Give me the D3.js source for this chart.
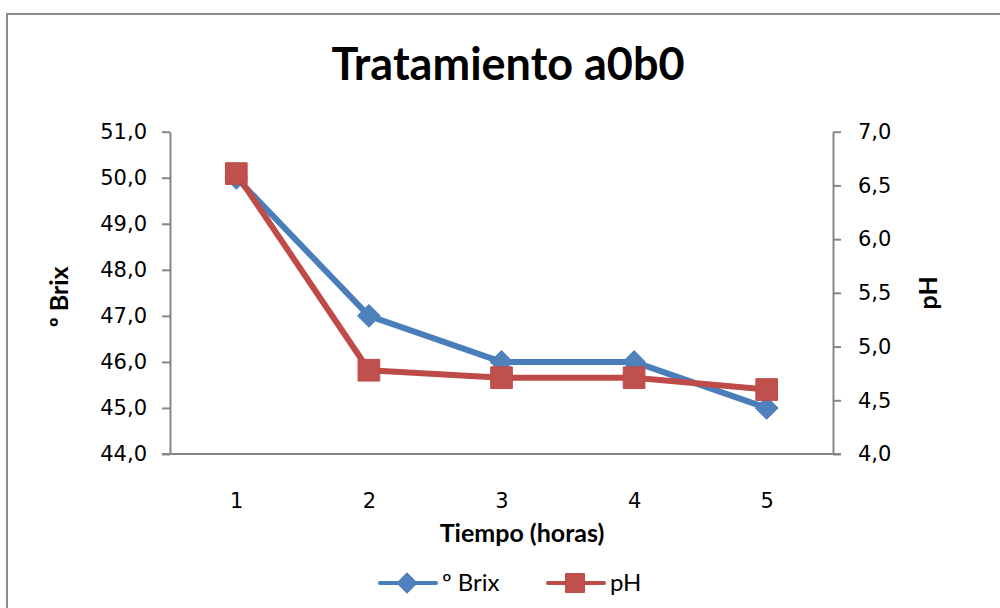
<!DOCTYPE html>
<html>
<head>
<meta charset="utf-8">
<script src="https://cdn.jsdelivr.net/npm/d3@7"></script>
<style>
  html, body { margin: 0; padding: 0; background: #fff; }
  svg { display: block; font-family: Lato, "Open Sans", sans-serif; }
</style>
</head>
<body>
<svg id="chart" width="1000" height="608"></svg>
<script>
// Time points (hours) and measured values
const hours = ["1", "2", "3", "4", "5"];
const brix = [50.0, 47.0, 46.0, 46.0, 45.0];
const ph = [6.61, 4.78, 4.71, 4.71, 4.60];
const brixTicks = [44, 45, 46, 47, 48, 49, 50, 51];
const phTicks = [4.0, 4.5, 5.0, 5.5, 6.0, 6.5, 7.0];

const blueLine = "#4A7EBB", blueFill = "#4F81BD";
const redLine = "#BE4B48", redFill = "#C0504D";
const axisColor = "#868686";
const tickFont = "'DejaVu Sans', Verdana, sans-serif";

const svg = d3.select("#chart");

// Chart frame
svg.append("rect")
  .attr("x", 7).attr("y", 14)
  .attr("width", 1000).attr("height", 610)
  .attr("fill", "#fff")
  .attr("stroke", "#8c8c8c").attr("stroke-width", 2);

const plot = { left: 170, right: 833, top: 131.7, bottom: 454 };

const x = d3.scalePoint().domain(hours).range([plot.left, plot.right]).padding(0.5);
const yL = d3.scaleLinear().domain([44, 51]).range([plot.bottom, plot.top]);
const yR = d3.scaleLinear().domain([4, 7]).range([plot.bottom, plot.top]);

const fmt = d => d.toFixed(1).replace(".", ",");

// Left axis (ºBrix)
const gL = svg.append("g")
  .attr("transform", `translate(${plot.left},0)`)
  .call(d3.axisLeft(yL).tickValues(brixTicks).tickFormat(fmt).tickSizeInner(8).tickSizeOuter(0).tickPadding(15));

// Right axis (pH)
const gR = svg.append("g")
  .attr("transform", `translate(${plot.right},0)`)
  .call(d3.axisRight(yR).tickValues(phTicks).tickFormat(fmt).tickSizeInner(8).tickSizeOuter(0).tickPadding(17));

// Bottom axis (categories)
const gB = svg.append("g")
  .attr("transform", `translate(0,${plot.bottom})`)
  .call(d3.axisBottom(x).tickSize(0).tickPadding(38));
gB.select(".domain").attr("d", `M${plot.left - 8},0H${plot.right + 8}`);

[gL, gR, gB].forEach(g => {
  g.selectAll(".domain").attr("stroke", axisColor).attr("stroke-width", 2);
  g.selectAll(".tick line").attr("stroke", axisColor).attr("stroke-width", 2);
  g.selectAll(".tick text").attr("fill", "#000").style("font-size", "21px")
    .style("font-family", tickFont);
});
gB.selectAll(".tick text").attr("dy", "0.35em").attr("y", 47);

// Titles
svg.append("text")
  .attr("x", 508).attr("y", 80)
  .attr("text-anchor", "middle")
  .style("font-size", "45px").style("font-weight", "bold")
  .text("Tratamiento a0b0");

svg.append("text")
  .attr("transform", `translate(68,${(plot.top + plot.bottom) / 2 + 4}) rotate(-90)`)
  .attr("text-anchor", "middle")
  .style("font-size", "25px").style("font-weight", "bold")
  .text("º Brix");

svg.append("text")
  .attr("transform", `translate(937,${(plot.top + plot.bottom) / 2}) rotate(-90)`)
  .attr("text-anchor", "middle")
  .style("font-size", "25px").style("font-weight", "bold")
  .text("pH");

svg.append("text")
  .attr("x", 522).attr("y", 542)
  .attr("text-anchor", "middle")
  .style("font-size", "25px").style("font-weight", "bold")
  .text("Tiempo (horas)");

// Series
const diamond = d3.symbol().type(d3.symbolSquare).size(250);
const square = d3.symbol().type(d3.symbolSquare).size(470);

const brixLine = d3.line().x((d, i) => x(hours[i])).y(d => yL(d));
const phLine = d3.line().x((d, i) => x(hours[i])).y(d => yR(d));

svg.append("path").datum(brix)
  .attr("d", brixLine).attr("fill", "none")
  .attr("stroke", blueLine).attr("stroke-width", 6).attr("stroke-linejoin", "round");
svg.append("g").selectAll("path").data(brix).join("path")
  .attr("d", diamond)
  .attr("transform", (d, i) => `translate(${x(hours[i])},${yL(d)}) rotate(45)`)
  .attr("fill", blueFill).attr("stroke", blueLine).attr("stroke-width", 1);

svg.append("path").datum(ph)
  .attr("d", phLine).attr("fill", "none")
  .attr("stroke", redLine).attr("stroke-width", 6).attr("stroke-linejoin", "round");
svg.append("g").selectAll("path").data(ph).join("path")
  .attr("d", square)
  .attr("transform", (d, i) => `translate(${x(hours[i])},${yR(d)})`)
  .attr("fill", redFill).attr("stroke", redLine).attr("stroke-width", 1);

// Legend
const legend = [
  { name: "º Brix", line: blueLine, fill: blueFill, sym: d3.symbol().type(d3.symbolSquare).size(200), rot: 45, x0: 380 },
  { name: "pH", line: redLine, fill: redFill, sym: d3.symbol().type(d3.symbolSquare).size(360), rot: 0, x0: 548 }
];
const ly = 583;
const lg = svg.append("g").selectAll("g").data(legend).join("g");
lg.append("line")
  .attr("x1", d => d.x0).attr("x2", d => d.x0 + 56)
  .attr("y1", ly).attr("y2", ly)
  .attr("stroke", d => d.line).attr("stroke-width", 4).attr("stroke-linecap", "round");
lg.append("path")
  .attr("d", d => d.sym())
  .attr("transform", d => `translate(${d.x0 + 27},${ly}) rotate(${d.rot})`)
  .attr("fill", d => d.fill).attr("stroke", d => d.line);
lg.append("text")
  .attr("x", d => d.x0 + 62).attr("y", ly).attr("dy", "0.35em")
  .style("font-size", "24px")
  .text(d => d.name);
</script>
</body>
</html>
